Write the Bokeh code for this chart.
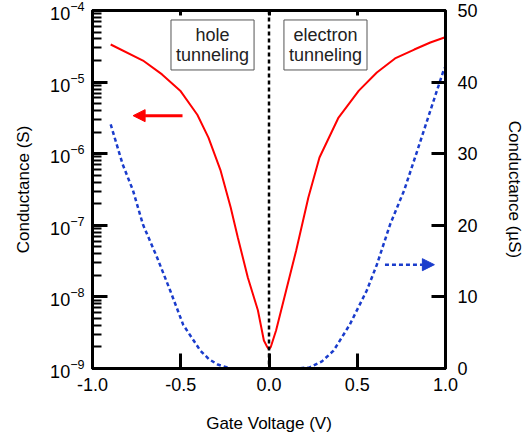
from bokeh.plotting import figure
from bokeh.models import (Range1d, LinearAxis, FixedTicker, Span, Label, Arrow,
                          NormalHead, LinearScale, PrintfTickFormatter,
                          CustomJSTickFormatter)
from bokeh.embed import file_html
from bokeh.resources import INLINE

# ---- data ----
red_v = [-0.897, -0.714, -0.606, -0.503, -0.406, -0.343, -0.274, -0.217, -0.177,
         -0.120, -0.063, -0.029, -0.010, 0.0, 0.010, 0.040, 0.097, 0.154, 0.223,
         0.286, 0.394, 0.509, 0.611, 0.714, 0.823, 0.914, 0.994]
red_g = [3.35e-5, 2.0e-5, 1.28e-5, 7.6e-6, 3.5e-6, 1.68e-6, 5.8e-7, 1.77e-7, 6.8e-8,
         1.87e-8, 6.5e-9, 2.46e-9, 2.0e-9, 1.84e-9, 2.0e-9, 3.4e-9, 1.23e-8, 4.45e-8,
         2.44e-7, 8.85e-7, 3.2e-6, 7.6e-6, 1.36e-5, 2.14e-5, 2.85e-5, 3.57e-5, 4.2e-5]

blue_v = [-0.897, -0.829, -0.771, -0.714, -0.634, -0.560, -0.486, -0.389, -0.340,
          -0.291, -0.217, -0.15, 0.0, 0.15, 0.229, 0.300, 0.366, 0.457, 0.554, 0.611,
          0.686, 0.766, 0.840, 0.914, 0.994]
blue_us = [34.1, 28.5, 24.9, 20.1, 15.5, 10.9, 6.1, 2.5, 1.3,
           0.56, 0.0, 0.0, 0.0, 0.0, 0.14, 1.0, 2.5, 6.1, 10.9, 14.5,
           20.1, 24.9, 30.4, 36.0, 42.0]

x_ticks = [-1.0, -0.5, 0.0, 0.5, 1.0]
right_ticks = [0, 10, 20, 30, 40, 50]

FONT = "Liberation Sans"
RED = "#ff0000"
BLUE = "#1a3ccc"

p = figure(frame_width=353, frame_height=358, output_backend="svg",
           toolbar_location=None, y_axis_type="log",
           x_range=Range1d(-1.0, 1.0), y_range=Range1d(1e-9, 1e-4),
           min_border_left=92, min_border_right=16, min_border_top=10,
           min_border_bottom=8)
p.extra_y_ranges = {"us": Range1d(0, 50)}
p.extra_y_scales = {"us": LinearScale()}
p.grid.visible = False
p.outline_line_color = "black"
p.outline_line_width = 3
p.background_fill_color = "white"
p.border_fill_color = "white"

# bottom axis
xa = p.xaxis[0]
xa.ticker = FixedTicker(ticks=x_ticks)
xa.formatter = PrintfTickFormatter(format="%.1f")
xa.axis_label = "Gate Voltage (V)"
# left axis
ya = p.yaxis[0]
ya.axis_label = "Conductance (S)"

ra = LinearAxis(y_range_name="us", axis_label="Conductance (µS)",
                ticker=FixedTicker(ticks=right_ticks))
p.add_layout(ra, "right")

ta = LinearAxis(ticker=FixedTicker(ticks=[-0.5, 0.0, 0.5]),
                formatter=CustomJSTickFormatter(code="return ''"))
p.add_layout(ta, "above")

for ax in [xa, ya, ra, ta]:
    ax.axis_line_width = 3
    ax.axis_line_color = "black"
    ax.major_tick_line_width = 3
    ax.minor_tick_line_width = 2
    ax.major_tick_out = 0
    ax.minor_tick_out = 0
    ax.major_label_text_font = FONT
    ax.major_label_text_font_size = "18px"
    ax.major_label_text_color = "black"
    ax.axis_label_text_font = FONT
    ax.axis_label_text_font_size = "17px"
    ax.axis_label_text_font_style = "normal"
    ax.axis_label_text_color = "black"

xa.major_tick_in = 15
xa.minor_tick_line_color = None
xa.major_label_standoff = 9
xa.axis_label_standoff = 20

ya.major_tick_in = 15
ya.minor_tick_in = 9
ya.major_label_standoff = 8
ya.axis_label_standoff = 14

ra.major_tick_in = 14
ra.minor_tick_line_color = None
ra.major_label_standoff = 12
ra.axis_label_standoff = 24

ta.major_tick_in = 5
ta.minor_tick_line_color = None
ta.major_label_standoff = 0

# vertical dashed line at 0 V
p.add_layout(Span(location=0, dimension="height", line_color="black",
                  line_width=2.5, line_dash="4 3"))

# curves
p.line(red_v, red_g, line_color=RED, line_width=2)
p.line(blue_v, blue_us, y_range_name="us", line_color=BLUE, line_width=2.5,
       line_dash="4 3")

# annotation boxes
for txt, xv in [("hole\ntunneling", -0.32), ("electron\ntunneling", 0.32)]:
    p.add_layout(Label(x=xv, y=3.3e-5, text=txt, anchor="center",
                       text_align="center", text_font=FONT,
                       text_font_size="18px", text_color="#222222",
                       text_line_height=1.0,
                       border_line_color="#555555", border_line_width=1,
                       background_fill_color="white", padding=5))

# arrows
p.add_layout(Arrow(x_start=-0.49, y_start=3.4e-6, x_end=-0.77, y_end=3.4e-6,
                   line_color=RED, line_width=3,
                   end=NormalHead(size=12, fill_color=RED, line_color=RED)))
p.add_layout(Arrow(x_start=0.657, y_start=14.5, x_end=0.937, y_end=14.5,
                   y_range_name="us", line_color=BLUE, line_width=2.5,
                   line_dash="4 3",
                   end=NormalHead(size=12, fill_color=BLUE, line_color=BLUE,
                                  line_dash="solid")))

open("out.html", "w").write(file_html(p, INLINE))
